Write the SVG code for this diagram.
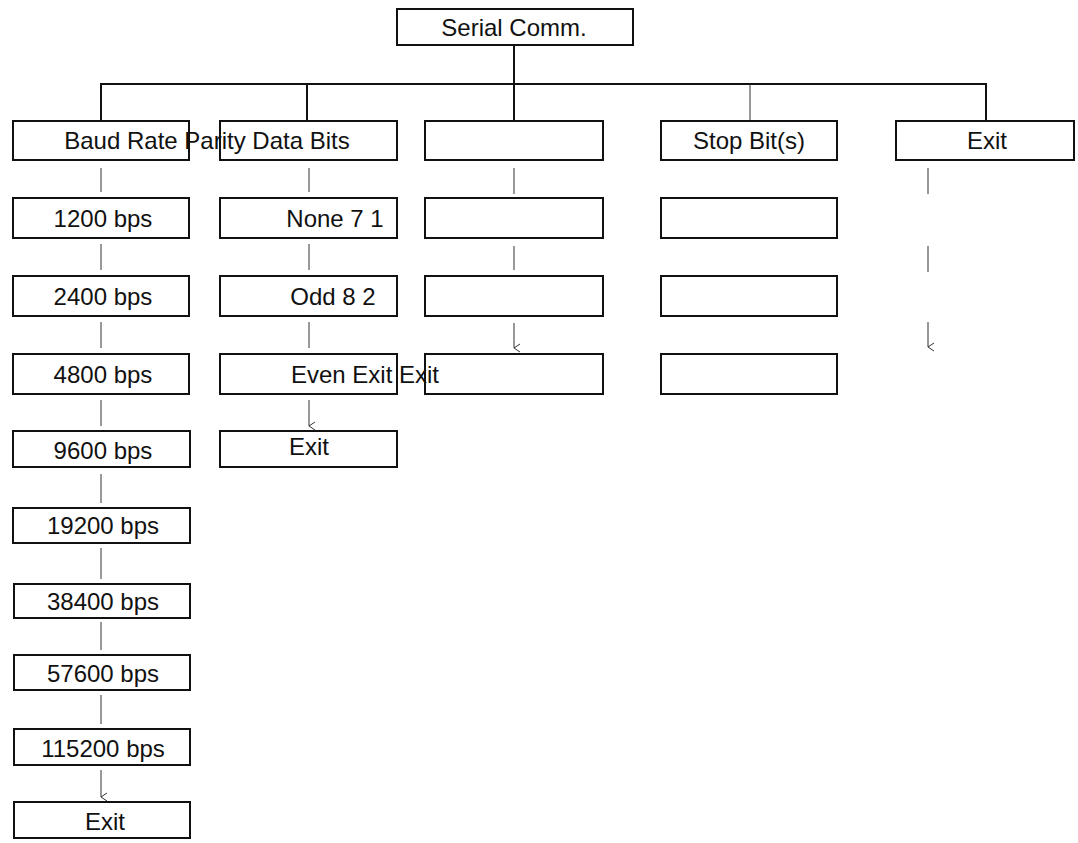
<svg xmlns="http://www.w3.org/2000/svg" width="1078" height="843" viewBox="0 0 1078 843">
<style>
.b{fill:#fff;stroke:#111;stroke-width:2}
.t{font-family:"Liberation Sans",Arial,sans-serif;font-size:24px;fill:#111;text-anchor:middle}
.c{stroke:#111;stroke-width:2;fill:none}
.a{stroke:#333;stroke-width:1;fill:none}
</style>
<defs><marker id="m" markerWidth="10" markerHeight="10" refX="5" refY="9" orient="auto" markerUnits="userSpaceOnUse"><path d="M1,3 L5,9 L9,3" fill="none" stroke="#333" stroke-width="1"/></marker></defs>
<rect width="1078" height="843" fill="#fff"/>
<g id="connectors">
<path class="c" d="M514,45V121M101,121V84H986V121M307,84V121"/>
<path class="a" d="M750,84V121"/>
<g marker-end="url(#m)">
<path class="a" d="M101,168V192M101,244V270M101,322V348M101,400V426M101,474V503M101,548V579M101,622V650M101,695V724M101,770V797"/>
<path class="a" d="M309,168V192M309,244V270M309,322V348M309,400V426"/>
<path class="a" d="M514,168V194M514,246V270M514,323V348"/>
<path class="a" d="M928,168V194M928,246V272M928,322V347"/>
</g>
</g>
<g id="serial"><rect class="b" x="397" y="9" width="236" height="36"/><text class="t" x="514" y="36">Serial Comm.</text></g>
<g id="baud"><rect class="b" x="13" y="121" width="176" height="39"/></g>
<g id="parity"><rect class="b" x="220" y="121" width="177" height="39"/><text class="t" x="207" y="149">Baud Rate Parity Data Bits</text></g>
<g id="databits"><rect class="b" x="425" y="121" width="178" height="39"/></g>
<g id="stop"><rect class="b" x="661" y="121" width="176" height="39"/><text class="t" x="749" y="149">Stop Bit(s)</text></g>
<g id="exit0"><rect class="b" x="896" y="121" width="178" height="39"/><text class="t" x="987" y="149">Exit</text></g>
<g id="b1"><rect class="b" x="13" y="198" width="176" height="40"/><text class="t" x="103" y="227">1200 bps</text></g>
<g id="b2"><rect class="b" x="13" y="276" width="176" height="40"/><text class="t" x="103" y="305">2400 bps</text></g>
<g id="b3"><rect class="b" x="13" y="354" width="176" height="40"/><text class="t" x="103" y="383">4800 bps</text></g>
<g id="b4"><rect class="b" x="13" y="431" width="177" height="36"/><text class="t" x="103" y="459">9600 bps</text></g>
<g id="b5"><rect class="b" x="13" y="508" width="177" height="35"/><text class="t" x="103" y="534">19200 bps</text></g>
<g id="b6"><rect class="b" x="14" y="584" width="176" height="34"/><text class="t" x="103" y="610">38400 bps</text></g>
<g id="b7"><rect class="b" x="14" y="655" width="176" height="35"/><text class="t" x="103" y="682">57600 bps</text></g>
<g id="b8"><rect class="b" x="14" y="729" width="176" height="36"/><text class="t" x="103" y="757">115200 bps</text></g>
<g id="b9"><rect class="b" x="14" y="802" width="176" height="36"/><text class="t" x="105" y="830">Exit</text></g>
<g id="p1"><rect class="b" x="220" y="198" width="177" height="40"/><text class="t" x="335" y="227">None 7 1</text></g>
<g id="p2"><rect class="b" x="220" y="276" width="177" height="40"/><text class="t" x="333" y="305">Odd 8 2</text></g>
<g id="p3"><rect class="b" x="220" y="354" width="177" height="40"/></g>
<g id="p4"><rect class="b" x="220" y="431" width="177" height="36"/><text class="t" x="309" y="455">Exit</text></g>
<g id="d1"><rect class="b" x="425" y="198" width="178" height="40"/></g>
<g id="d2"><rect class="b" x="425" y="276" width="178" height="40"/></g>
<g id="d3"><rect class="b" x="425" y="354" width="178" height="40"/><text class="t" x="365" y="383">Even Exit Exit</text></g>
<g id="s1"><rect class="b" x="661" y="198" width="176" height="40"/></g>
<g id="s2"><rect class="b" x="661" y="276" width="176" height="40"/></g>
<g id="s3"><rect class="b" x="661" y="354" width="176" height="40"/></g>
</svg>
